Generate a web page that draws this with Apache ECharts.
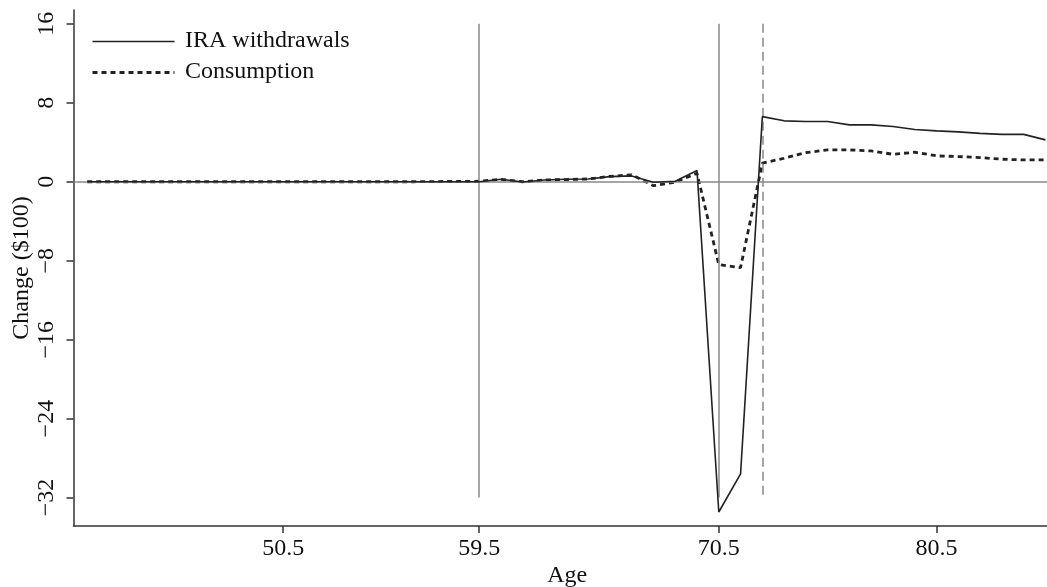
<!DOCTYPE html>
<html>
<head>
<meta charset="utf-8">
<script src="https://cdn.jsdelivr.net/npm/echarts@6/dist/echarts.min.js"></script>
<style>html,body{margin:0;padding:0;background:#fff}#c{width:1047px;height:587px}</style>
</head>
<body>
<div id="c"></div>
<script>
const ages = [41.5,42.5,43.5,44.5,45.5,46.5,47.5,48.5,49.5,50.5,51.5,52.5,53.5,54.5,55.5,56.5,57.5,58.5,
  59.5,60.5,61.5,62.5,63.5,64.5,65.5,66.5,67.5,68.5,69.5,70.5,71.5,72.5,73.5,74.5,75.5,76.5,77.5,78.5,79.5,80.5,81.5,82.5,83.5,84.5,85.5];
const iraWithdrawals = [0,0,0,0,0,0,0,0,0,0,0,0,0,0,0,0,0,0,
  0.0,0.25,-0.02,0.18,0.25,0.28,0.52,0.59,-0.05,0.05,1.13,-33.46,-29.6,6.6,6.17,6.1,6.1,5.76,5.76,5.6,5.3,5.15,5.05,4.9,4.8,4.8,4.24];
const consumption = [0,0,0,0,0,0,0,0,0,0,0,0,0,0,0,0,0.02,0.03,
  0.05,0.25,0.0,0.18,0.22,0.28,0.55,0.7,-0.4,-0.05,0.86,-8.4,-8.7,1.88,2.38,2.95,3.22,3.22,3.12,2.78,2.99,2.62,2.55,2.45,2.28,2.21,2.21];
const xTicks = [50.5, 59.5, 70.5, 80.5];
const yTicks = [16, 8, 0, -8, -16, -24, -32];
const solidVLines = [59.5, 70.5];
const dashedVLines = [72.5];
const seriesNames = ['IRA withdrawals', 'Consumption'];

const FONT = '"Liberation Serif", "DejaVu Serif", serif';
const chart = echarts.init(document.getElementById('c'), null, {renderer: 'canvas'});
const pair = (a, b) => ages.map((x, i) => [x, b[i]]);
const vline = (x, dashed) => [
  {coord: [x, 16], lineStyle: {type: dashed ? [9, 5] : 'solid'}},
  {coord: [x, -32]}
];
const legendGraphic = [];
seriesNames.forEach((name, i) => {
  const y = 40 + i * 31;
  legendGraphic.push({
    type: 'line', left: 90, top: y - 1,
    shape: {x1: 0, y1: 0, x2: 82, y2: 0},
    style: i === 0 ? {stroke: '#222', lineWidth: 1.6} : {stroke: '#222', lineWidth: 2.8, lineDash: [5, 4]}
  });
  legendGraphic.push({
    type: 'text', left: 185, top: y - 11,
    style: {text: name, font: '24px ' + FONT, fill: '#111'}
  });
});
chart.setOption({
  animation: false,
  textStyle: {fontFamily: FONT},
  grid: {left: 73.5, right: 0, top: 10, bottom: 61, containLabel: false, outerBoundsMode: 'none'},
  graphic: legendGraphic,
  xAxis: {
    type: 'value', min: 40.87, max: 85.57,
    name: 'Age', nameLocation: 'middle', nameGap: 38, nameMoveOverlap: false,
    nameTextStyle: {fontFamily: FONT, fontSize: 24, color: '#111', padding: [0, 0, 0, 14]},
    axisLine: {onZero: false, lineStyle: {color: '#333', width: 1.5}},
    axisTick: {show: true, length: 7, customValues: xTicks, lineStyle: {color: '#333', width: 1.5}},
    axisLabel: {customValues: xTicks, fontFamily: FONT, fontSize: 24, color: '#111', margin: 11,
      formatter: v => v.toFixed(1)},
    splitLine: {show: false}
  },
  yAxis: {
    type: 'value', min: -34.88, max: 17.4,
    name: 'Change ($100)', nameLocation: 'middle', nameRotate: 90, nameGap: 40, nameMoveOverlap: false,
    nameTextStyle: {fontFamily: FONT, fontSize: 24, color: '#111'},
    axisLine: {show: true, onZero: false, lineStyle: {color: '#333', width: 1.5}},
    axisTick: {show: true, length: 7, customValues: yTicks, lineStyle: {color: '#333', width: 1.5}},
    axisLabel: {customValues: yTicks, rotate: 90, fontFamily: FONT, fontSize: 24, color: '#111', margin: 14.5,
      formatter: v => (v < 0 ? '\u2212' + Math.abs(v) : String(v))},
    splitLine: {show: false}
  },
  series: [
    {
      name: seriesNames[0], type: 'line', data: pair(ages, iraWithdrawals),
      symbol: 'none', lineStyle: {color: '#222', width: 1.6}, itemStyle: {color: '#222'}, z: 5,
      markLine: {
        silent: true, symbol: 'none', label: {show: false},
        lineStyle: {color: '#888', width: 1.5, type: 'solid'},
        data: [
          {yAxis: 0},
          ...solidVLines.map(x => vline(x, false)),
          ...dashedVLines.map(x => vline(x, true))
        ]
      }
    },
    {
      name: seriesNames[1], type: 'line', data: pair(ages, consumption),
      symbol: 'none', lineStyle: {color: '#222', width: 2.8, type: [5, 4]}, itemStyle: {color: '#222'}, z: 4
    }
  ]
});
</script>
</body>
</html>
